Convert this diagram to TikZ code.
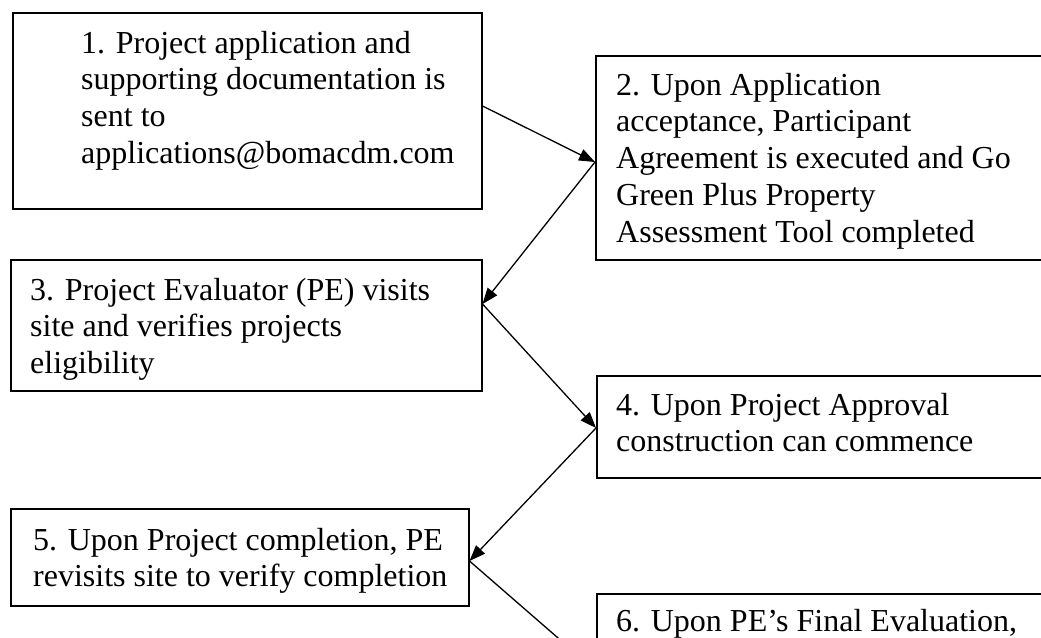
\documentclass[tikz,border=0pt]{standalone}
\usepackage{fontspec}
\setmainfont{Liberation Serif}
\usetikzlibrary{arrows.meta}
\begin{document}
\begin{tikzpicture}[x=1pt,y=-1pt,
  box/.style={draw=black, line width=1.5pt, fill=none, inner sep=0pt, anchor=north west},
  txt/.style={inner sep=0pt, anchor=base west, font=\fontsize{32}{36.8}\selectfont},
  conn/.style={draw=black, line width=1.3pt, -{Triangle[length=16pt,width=12pt]}}]
\clip (0,0) rectangle (1041,637);
\fill[white] (0,0) rectangle (1041,637);
% boxes
\node[box, minimum width=469pt, minimum height=196pt] (b1) at (12,12) {};
\node[box, minimum width=480pt, minimum height=204pt] (b2) at (595,55) {};
\node[box, minimum width=471pt, minimum height=131pt] (b3) at (10,259) {};
\node[box, minimum width=480pt, minimum height=102pt] (b4) at (596,375) {};
\node[box, minimum width=458pt, minimum height=97pt] (b5) at (10,508) {};
\node[box, minimum width=480pt, minimum height=160pt] (b6) at (596,593) {};
% texts
\node[txt] (t1) at (81,53) {\parbox[t]{440pt}{\raggedright 1. Project application and\\supporting documentation is\\sent to\\applications@bomacdm.com}};
\node[txt] (t2) at (616,95) {\parbox[t]{440pt}{\raggedright 2. Upon Application\\acceptance, Participant\\Agreement is executed and Go\\Green Plus Property\\Assessment Tool completed}};
\node[txt] (t3) at (30,300) {\parbox[t]{450pt}{\raggedright 3. Project Evaluator (PE) visits\\site and verifies projects\\eligibility}};
\node[txt] (t4) at (616,415) {\parbox[t]{440pt}{\raggedright 4. Upon Project Approval\\construction can commence}};
\node[txt] (t5) at (33,550) {\parbox[t]{450pt}{\raggedright 5. Upon Project completion, PE\\revisits site to verify completion}};
\node[txt] (t6) at (616,631) {\parbox[t]{440pt}{\raggedright 6. Upon PE’s Final Evaluation,}};
% connector end points
\coordinate (c1) at (b1.east |- 0,106);
\coordinate (c2) at (b2.west |- 0,162);
\coordinate (c3) at (b3.east |- 0,304);
\coordinate (c4) at (b4.west |- 0,428);
\coordinate (c5) at (b5.east |- 0,561);
\coordinate (c6) at (b6.west |- 0,671);
\draw[conn] (c1) -- (c2);
\draw[conn] (c2) -- (c3);
\draw[conn] (c3) -- (c4);
\draw[conn] (c4) -- (c5);
\draw[conn] (c5) -- (c6);
\end{tikzpicture}
\end{document}
